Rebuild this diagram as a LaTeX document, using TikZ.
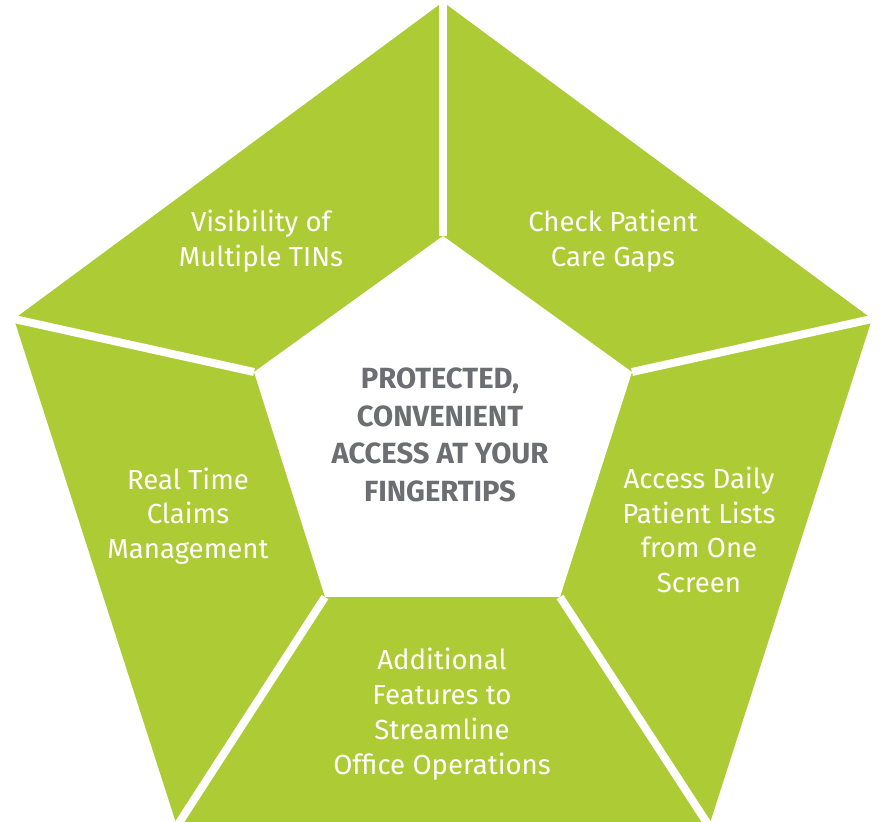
\documentclass[tikz,border=0pt]{standalone}
\usepackage{fontspec}
\setmainfont{Fira Sans}
\definecolor{leaf}{HTML}{ADCB34}
\definecolor{slate}{HTML}{6D6E71}

\begin{document}
\begin{tikzpicture}[x=0.5pt,y=-0.5pt]
\tikzset{
  gap/.style={draw=white,line width=4pt,shorten <=-3pt},
  lbl/.style={text=white,align=center,font=\fontsize{13.8}{17.4}\selectfont},
  hub/.style={text=slate,align=center,font=\fontsize{14.6}{18.85}\selectfont\bfseries}
}
\useasboundingbox (0,0) rectangle (880,822);
% outer corners
\coordinate (ot) at (443,2);
\coordinate (or) at (872,319);
\coordinate (obr) at (709,826);
\coordinate (obl) at (177,826);
\coordinate (ol) at (14,319);
% inner corners
\coordinate (it) at (443,236);
\coordinate (ir) at (632,372);
\coordinate (ibr) at (560,597);
\coordinate (ibl) at (325,597);
\coordinate (il) at (254,372);
\fill[leaf] (ot) -- (or) -- (obr) -- (obl) -- (ol) -- cycle;
\fill[white] (it) -- (ir) -- (ibr) -- (ibl) -- (il) -- cycle;
\draw[gap] (ot) -- (it);
\draw[gap] (or) -- (ir);
\draw[gap] (obr) -- (ibr);
\draw[gap] (obl) -- (ibl);
\draw[gap] (ol) -- (il);
% labels
\node[lbl] (tins) at (261,241) {Visibility of\\Multiple TINs};
\node[lbl] (gaps) at (613,241) {Check Patient\\Care Gaps};
\node[lbl] (claims) at (188,516) {Real Time\\Claims\\Management};
\node[lbl] (lists) at (699,530) {Access Daily\\Patient Lists\\from One\\Screen};
\node[lbl] (office) at (442,714) {Additional\\Features to\\Streamline\\Office Operations};
\node[hub] (access) at (440,435) {PROTECTED,\\CONVENIENT\\ACCESS AT YOUR\\FINGERTIPS};
\end{tikzpicture}
\end{document}
